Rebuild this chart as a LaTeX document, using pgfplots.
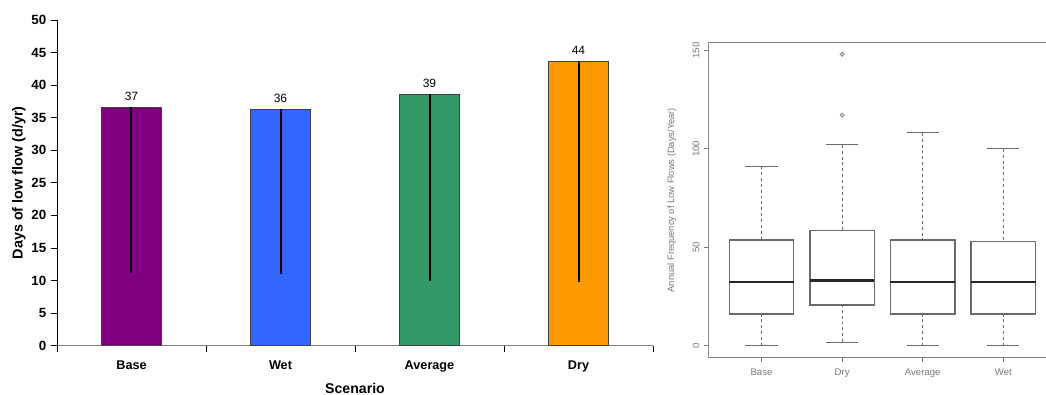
\documentclass[border=0pt]{standalone}
\usepackage{pgfplots}
\pgfplotsset{compat=1.18}
\usepgfplotslibrary{statistics}
\usepackage{fontspec}
\setmainfont{Liberation Sans}
\definecolor{cpurple}{HTML}{800080}
\definecolor{cblue}{HTML}{3366FF}
\definecolor{cgreen}{HTML}{339966}
\definecolor{corange}{HTML}{FF9900}
\definecolor{rgray}{HTML}{777777}
\definecolor{rline}{HTML}{6A6A6A}
\pgfplotsset{
  /pgfplots/boxplot/draw/lower whisker/.code={%
    \draw[rline, line width=0.7pt, dash pattern=on 2.2pt off 2.2pt]
      (boxplot box cs:\pgfplotsboxplotvalue{lower whisker},0.5) --
      (boxplot box cs:\pgfplotsboxplotvalue{lower quartile},0.5);
    \draw[rline, line width=0.8pt]
      (boxplot whisker cs:\pgfplotsboxplotvalue{lower whisker},0) --
      (boxplot whisker cs:\pgfplotsboxplotvalue{lower whisker},1);
  },
  /pgfplots/boxplot/draw/upper whisker/.code={%
    \draw[rline, line width=0.7pt, dash pattern=on 2.2pt off 2.2pt]
      (boxplot box cs:\pgfplotsboxplotvalue{upper whisker},0.5) --
      (boxplot box cs:\pgfplotsboxplotvalue{upper quartile},0.5);
    \draw[rline, line width=0.8pt]
      (boxplot whisker cs:\pgfplotsboxplotvalue{upper whisker},0) --
      (boxplot whisker cs:\pgfplotsboxplotvalue{upper whisker},1);
  },
  /pgfplots/boxplot/every box/.style={draw=rline, line width=1pt},
  /pgfplots/boxplot/every median/.style={draw=black!85, line width=1.8pt},
}
\begin{document}
\begin{tikzpicture}
\path[use as bounding box] (0,0) rectangle (784.5pt,296.25pt);
% ---------------- left: bar chart ----------------
\begin{axis}[
  at={(42.75pt,36.98pt)}, anchor=south west,
  scale only axis, width=447pt, height=244.3pt,
  xmin=-0.5, xmax=3.5, ymin=0, ymax=50,
  axis lines=left, axis line style={-},
  x axis line style={gray, line width=0.8pt},
  y axis line style={black, line width=0.7pt},
  xtick={-0.5,0.5,1.5,2.5,3.5},
  xticklabels={Base,Wet,Average,Dry},
  x tick label as interval,
  ytick={0,5,...,50},
  tick align=outside, major tick length=4.5pt,
  tick style={black, line width=0.6pt},
  /pgf/number format/assume math mode=true,
  /pgf/number format/fixed, /pgf/number format/precision=0,
  yticklabel style={font=\fontsize{10}{12}\selectfont\bfseries},
  xticklabel style={font=\fontsize{9.5}{11}\selectfont\bfseries, yshift=-3pt},
  ylabel={Days of low flow (d/yr)},
  ylabel style={at={(axis description cs:-0.064,0.5)}, anchor=center, font=\fontsize{10.8}{12}\selectfont\bfseries},
  xlabel={Scenario},
  xlabel style={at={(axis description cs:0.5,-0.13)}, anchor=center, font=\fontsize{10.6}{12}\selectfont\bfseries},
  ybar, bar width=45pt,
  nodes near coords,
  nodes near coords style={font=\fontsize{9}{10}\selectfont, yshift=1.5pt},
]
\addplot[bar shift=0pt, fill=cpurple, draw=black!75, line width=0.6pt,
  error bars/.cd, y dir=minus, y explicit, error mark=none,
  error bar style={draw=black, line width=1.5pt}]
  coordinates {(0,36.6) -= (0,25.5)};
\addplot[bar shift=0pt, fill=cblue, draw=black!75, line width=0.6pt,
  error bars/.cd, y dir=minus, y explicit, error mark=none,
  error bar style={draw=black, line width=1.5pt}]
  coordinates {(1,36.3) -= (0,25.3)};
\addplot[bar shift=0pt, fill=cgreen, draw=black!75, line width=0.6pt,
  error bars/.cd, y dir=minus, y explicit, error mark=none,
  error bar style={draw=black, line width=1.5pt}]
  coordinates {(2,38.6) -= (0,28.6)};
\addplot[bar shift=0pt, fill=corange, draw=black!75, line width=0.6pt,
  error bars/.cd, y dir=minus, y explicit, error mark=none,
  error bar style={draw=black, line width=1.5pt}]
  coordinates {(3,43.6) -= (0,33.8)};
\end{axis}
% ---------------- right: boxplot ----------------
\begin{axis}[
  at={(531.2pt,28.0pt)}, anchor=south west,
  scale only axis, width=261.2pt, height=236.25pt,
  xmin=0.34, xmax=4.66, ymin=-6, ymax=153.9,
  axis line style={rgray!90, line width=0.9pt},
  xtick={1,2,3,4}, xticklabels={Base,Dry,Average,Wet},
  ytick={0,50,100,150},
  xtick pos=bottom, ytick pos=left, tick align=outside,
  major tick length=3pt, tick style={rgray, line width=0.6pt},
  /pgf/number format/assume math mode=true,
  ticklabel style={font=\fontsize{7.2}{8}\selectfont, text=rgray},
  yticklabel style={rotate=90, anchor=south},
  xticklabel style={yshift=-2pt},
  ylabel={Annual Frequency of Low Flows (Days/Year)},
  ylabel style={at={(axis description cs:-0.105,0.5)}, anchor=center, font=\fontsize{7}{8}\selectfont, text=rgray},
  boxplot/draw direction=y,
]
\addplot[rline, mark=o, mark size=1.4pt, mark options={rgray!80, line width=0.8pt},
  boxplot prepared={draw position=1, lower whisker=0, lower quartile=16.1,
  median=32.3, upper quartile=53.8, upper whisker=91.2,
  box extend=0.8, whisker extend=0.4}] coordinates {};
\addplot[rline, mark=o, mark size=1.4pt, mark options={rgray!80, line width=0.8pt},
  boxplot prepared={draw position=2, lower whisker=1.9, lower quartile=20.8,
  median=33.2, upper quartile=58.7, upper whisker=102.0,
  box extend=0.8, whisker extend=0.4}]
  table[row sep=\\, y index=0] {data\\117.1\\148\\};
\addplot[rline, mark=o, mark size=1.4pt, mark options={rgray!80, line width=0.8pt},
  boxplot prepared={draw position=3, lower whisker=0, lower quartile=16.1,
  median=32.3, upper quartile=53.8, upper whisker=108.1,
  box extend=0.8, whisker extend=0.4}] coordinates {};
\addplot[rline, mark=o, mark size=1.4pt, mark options={rgray!80, line width=0.8pt},
  boxplot prepared={draw position=4, lower whisker=0, lower quartile=16.1,
  median=32.3, upper quartile=53.0, upper whisker=100.0,
  box extend=0.8, whisker extend=0.4}] coordinates {};
\end{axis}
\end{tikzpicture}
\end{document}
